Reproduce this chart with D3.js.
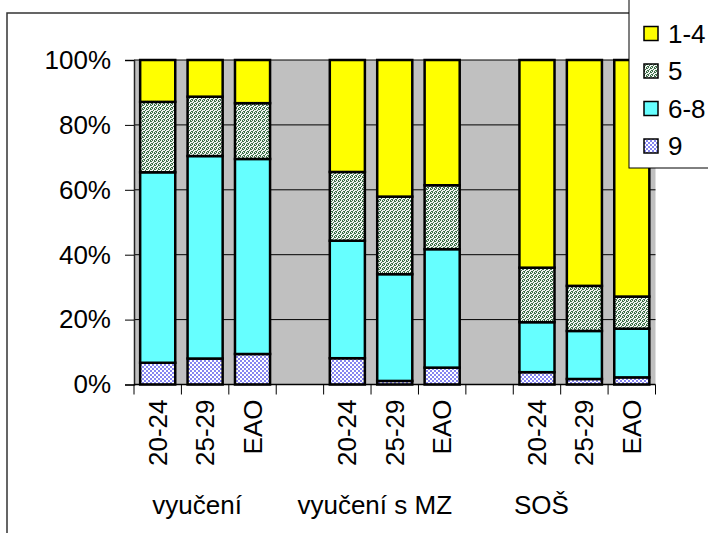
<!DOCTYPE html>
<html>
<head>
<meta charset="utf-8">
<script src="https://cdn.jsdelivr.net/npm/d3@7"></script>
<style>
  html, body { margin: 0; padding: 0; background: #fff; }
  svg { display: block; font-family: "Liberation Sans", Arial, sans-serif; }
</style>
</head>
<body>
<svg id="chart" width="708" height="533"></svg>
<script>
// ---- data ----
const categories = ["20-24", "25-29", "EAO", "", "20-24", "25-29", "EAO", "", "20-24", "25-29", "EAO"];
const groupLabels = ["vyučení", "vyučení s MZ", "SOŠ"];
const seriesNames = ["9", "6-8", "5", "1-4"]; // bottom to top
const s9   = [6.7, 8.0, 9.4, null, 8.1, 1.1, 5.2, null, 3.8, 1.7, 2.2];
const s68  = [58.7, 62.4, 60.1, null, 36.2, 32.9, 36.5, null, 15.4, 14.8, 15.0];
const s5   = [21.7, 18.3, 17.2, null, 21.2, 23.9, 19.7, null, 16.8, 13.9, 9.9];
const s14  = [12.9, 11.3, 13.3, null, 34.5, 42.1, 38.6, null, 64.0, 69.6, 72.9];
const yTicks = [0, 20, 40, 60, 80, 100];
const yTickLabels = ["0%", "20%", "40%", "60%", "80%", "100%"];

// ---- layout ----
const svg = d3.select("#chart");
const plot = { left: 134, right: 655.5, top: 60, bottom: 384.5 };
const FONT = 26;

const defs = svg.append("defs");
// pattern for "5": green dither
const p5 = defs.append("pattern").attr("id", "pat5").attr("width", 4).attr("height", 4)
  .attr("patternUnits", "userSpaceOnUse");
p5.append("rect").attr("width", 4).attr("height", 4).attr("fill", "#f2f6f2");
[[0,0],[2,1],[3,1],[1,2],[0,3],[3,3],[2,0]].forEach(([x,y]) =>
  p5.append("rect").attr("x", x).attr("y", y).attr("width", 1).attr("height", 1).attr("fill", "#3d6e48"));
// pattern for "9": blue checker
const p9 = defs.append("pattern").attr("id", "pat9").attr("width", 4).attr("height", 4)
  .attr("patternUnits", "userSpaceOnUse");
p9.append("rect").attr("width", 4).attr("height", 4).attr("fill", "#ffffff");
p9.append("rect").attr("x", 0).attr("y", 0).attr("width", 2).attr("height", 2).attr("fill", "#8585f0");
p9.append("rect").attr("x", 2).attr("y", 2).attr("width", 2).attr("height", 2).attr("fill", "#8585f0");

const fills = { "9": "url(#pat9)", "6-8": "#66ffff", "5": "url(#pat5)", "1-4": "#ffff00" };

// outer chart border (top & left visible)
svg.append("path").attr("d", "M7,533 V13 H708").attr("fill", "none")
  .attr("stroke", "#333").attr("stroke-width", 1.5);

const idx = d3.range(categories.length);
const x = d3.scaleBand().domain(idx).range([plot.left, plot.right]).paddingInner(0.26).paddingOuter(0.13);
const xEdge = d3.scaleLinear().domain([0, categories.length]).range([plot.left, plot.right]);
const y = d3.scaleLinear().domain([0, 100]).range([plot.bottom, plot.top]);

// plot area
svg.append("rect").attr("x", plot.left).attr("y", plot.top)
  .attr("width", plot.right - plot.left).attr("height", plot.bottom - plot.top)
  .attr("fill", "#c0c0c0");

// gridlines
svg.append("g").selectAll("line").data(yTicks.filter(d => d > 0)).join("line")
  .attr("x1", plot.left).attr("x2", plot.right)
  .attr("y1", d => y(d)).attr("y2", d => y(d))
  .attr("stroke", "#000").attr("stroke-width", 1);

// stacked bars
const rows = idx.map(i => ({ i, "9": s9[i], "6-8": s68[i], "5": s5[i], "1-4": s14[i] }))
  .filter(r => r["9"] !== null);
const stack = d3.stack().keys(seriesNames)(rows);
svg.append("g").selectAll("g").data(stack).join("g")
  .attr("fill", d => fills[d.key])
  .selectAll("rect").data(d => d).join("rect")
  .attr("x", d => x(d.data.i))
  .attr("width", x.bandwidth())
  .attr("y", d => y(d[1]))
  .attr("height", d => y(d[0]) - y(d[1]))
  .attr("stroke", "#000").attr("stroke-width", 2.5);

// y axis
const yAxis = d3.axisLeft(y).tickValues(yTicks).tickSize(9).tickPadding(14)
  .tickFormat((d, i) => yTickLabels[i]);
const gy = svg.append("g").attr("transform", `translate(${plot.left},0)`).call(yAxis);
gy.select(".domain").attr("stroke", "#222").attr("stroke-width", 1.5);
gy.selectAll(".tick line").attr("stroke", "#000");
gy.selectAll(".tick text").attr("font-size", FONT).attr("fill", "#000")
  .attr("font-family", "Liberation Sans, Arial, sans-serif");

// x axis: line + ticks at category boundaries
const edges = d3.range(categories.length + 1);
const gx = svg.append("g");
gx.append("line").attr("x1", plot.left).attr("x2", plot.right)
  .attr("y1", plot.bottom).attr("y2", plot.bottom).attr("stroke", "#000").attr("stroke-width", 1.5);
gx.selectAll("line.tk").data(edges).join("line").attr("class", "tk")
  .attr("x1", d => xEdge(d)).attr("x2", d => xEdge(d))
  .attr("y1", plot.bottom).attr("y2", plot.bottom + 10)
  .attr("stroke", "#000").attr("stroke-width", 1);

// rotated category labels
gx.selectAll("text.cat").data(idx.filter(i => categories[i] !== "")).join("text")
  .attr("class", "cat")
  .attr("transform", i => `translate(${x(i) + x.bandwidth() / 2 + 9},${plot.bottom + 15}) rotate(-90)`)
  .attr("text-anchor", "end")
  .attr("font-size", FONT)
  .text(i => categories[i]);

// group labels (centered on middle category of each group, with Excel-like offsets)
const groupOffsets = [-8, -20, -43];
gx.selectAll("text.grp").data(groupLabels).join("text")
  .attr("class", "grp")
  .attr("x", (d, g) => x(g * 4 + 1) + x.bandwidth() / 2 + groupOffsets[g])
  .attr("y", 514)
  .attr("text-anchor", "middle")
  .attr("font-size", FONT)
  .text(d => d);

// legend
const legendNames = seriesNames.slice().reverse();
const lg = svg.append("g");
lg.append("rect").attr("x", 629).attr("y", -5).attr("width", 100).attr("height", 173)
  .attr("fill", "#fff").attr("stroke", "#000").attr("stroke-width", 1);
const li = lg.selectAll("g").data(legendNames).join("g")
  .attr("transform", (d, i) => `translate(644,${33.5 + i * 37.5})`);
li.append("rect").attr("x", 0).attr("y", -7).attr("width", 14).attr("height", 14)
  .attr("fill", d => fills[d]).attr("stroke", "#000").attr("stroke-width", 1.5);
li.append("text").attr("x", 24).attr("y", 0).attr("dy", "0.36em")
  .attr("font-size", FONT).text(d => d);
</script>
</body>
</html>
